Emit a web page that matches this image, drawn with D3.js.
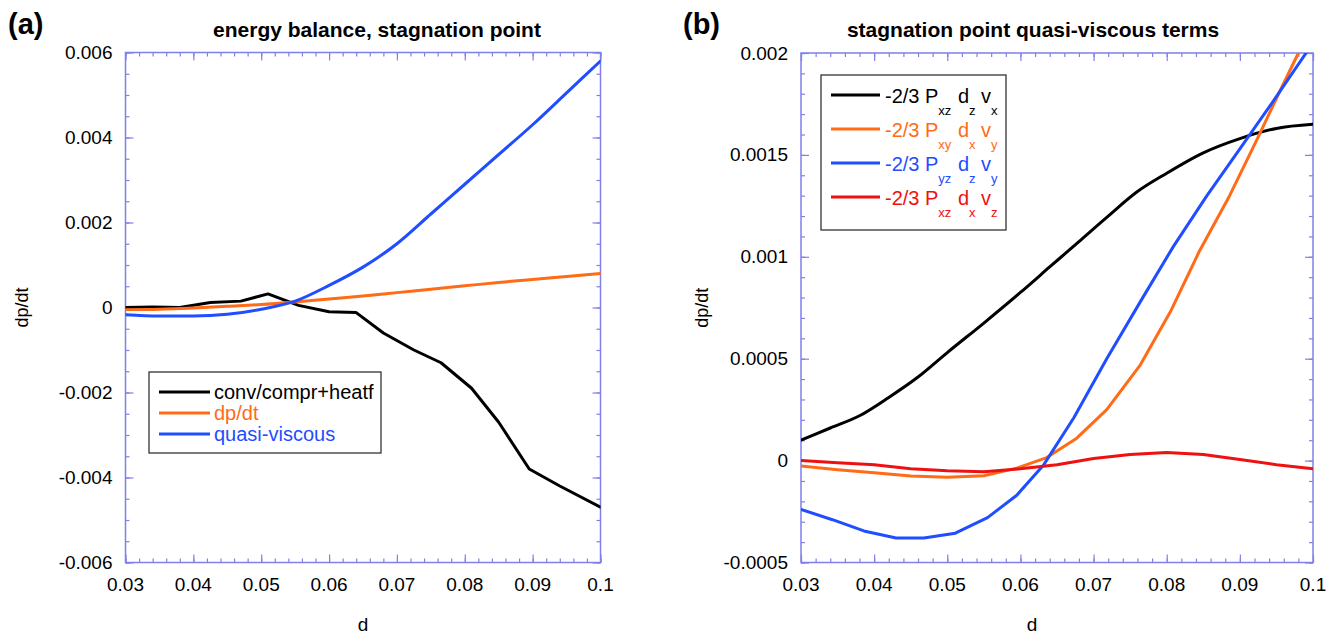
<!DOCTYPE html>
<html>
<head>
<meta charset="utf-8">
<script src="https://cdn.jsdelivr.net/npm/d3@7"></script>
<style>
  body { margin: 0; background: #fff; }
  svg { display: block; }
  text { font-family: "Liberation Sans", Arial, Helvetica, sans-serif; fill: #000; }
</style>
</head>
<body>
<svg id="fig" width="1338" height="637"></svg>
<script>
// ---------- shared axis ticks ----------
const xMajor  = [0.03, 0.04, 0.05, 0.06, 0.07, 0.08, 0.09, 0.1];
const xLabels = ["0.03", "0.04", "0.05", "0.06", "0.07", "0.08", "0.09", "0.1"];
const xMinorStep = 0.002;

// ---------- panel (a): energy balance ----------
const yMajorA  = [-0.006, -0.004, -0.002, 0, 0.002, 0.004, 0.006];
const yLabelsA = ["-0.006", "-0.004", "-0.002", "0", "0.002", "0.004", "0.006"];
const yMinorStepA = 0.0005;

const convD = [0.03, 0.034, 0.038, 0.0425, 0.047, 0.051, 0.0555, 0.06, 0.064, 0.068, 0.0725, 0.0765, 0.081, 0.085, 0.0895, 0.094, 0.1];
const convV = [0, 0.00001, 0, 0.00012, 0.00015, 0.00032, 0.00005, -0.0001, -0.00012, -0.0006, -0.001, -0.0013, -0.0019, -0.0027, -0.0038, -0.0042, -0.0047];

const dpdtD = [0.03, 0.035, 0.04, 0.045, 0.05, 0.055, 0.06, 0.065, 0.07, 0.075, 0.08, 0.085, 0.09, 0.095, 0.1];
const dpdtV = [-0.00005, -0.00004, -0.00001, 0.00003, 0.00007, 0.00013, 0.0002, 0.00027, 0.00035, 0.00043, 0.00051, 0.00059, 0.00066, 0.00073, 0.0008];

const qvD = [0.03, 0.035, 0.04, 0.045, 0.05, 0.055, 0.06, 0.065, 0.07, 0.075, 0.08, 0.085, 0.09, 0.095, 0.1];
const qvV = [-0.00017, -0.0002, -0.0002, -0.00016, -0.00004, 0.00015, 0.00052, 0.00095, 0.0015, 0.0022, 0.0029, 0.0036, 0.0043, 0.00505, 0.0058];

const legendNamesA  = ["conv/compr+heatf", "dp/dt", "quasi-viscous"];
const legendColorsA = ["#000000", "#ff6b17", "#1f4dff"];

// ---------- panel (b): quasi-viscous terms ----------
const yMajorB  = [-0.0005, 0, 0.0005, 0.001, 0.0015, 0.002];
const yLabelsB = ["-0.0005", "0", "0.0005", "0.001", "0.0015", "0.002"];
const yMinorStepB = 0.0001;

const pxzDzVxD = [0.03, 0.034, 0.038, 0.042, 0.046, 0.05, 0.055, 0.06, 0.064, 0.068, 0.072, 0.076, 0.08, 0.085, 0.09, 0.095, 0.1];
const pxzDzVxV = [0.0001, 0.00016, 0.00022, 0.00031, 0.00041, 0.00053, 0.000675, 0.000825, 0.00095, 0.001075, 0.0012, 0.00132, 0.00141, 0.00151, 0.00158, 0.00163, 0.00165];

const pxyDxVyD = [0.03, 0.035, 0.04, 0.045, 0.05, 0.055, 0.0595, 0.0636, 0.0677, 0.0718, 0.0764, 0.0805, 0.0845, 0.0886, 0.0924, 0.0953, 0.098, 0.1];
const pxyDxVyV = [-0.000026, -0.000045, -0.00006, -0.000075, -0.000082, -0.000074, -0.000037, 0.000015, 0.00011, 0.00025, 0.00047, 0.00073, 0.00103, 0.0013, 0.00158, 0.0018, 0.002, 0.00215];

const pyzDzVyD = [0.03, 0.0343, 0.0386, 0.043, 0.0468, 0.0511, 0.0555, 0.0595, 0.0632, 0.0673, 0.0718, 0.0764, 0.0809, 0.0855, 0.09, 0.0945, 0.1];
const pyzDzVyV = [-0.00024, -0.00029, -0.000345, -0.00038, -0.00038, -0.000356, -0.00028, -0.00017, -0.00002, 0.00021, 0.0005, 0.00078, 0.00105, 0.0013, 0.00153, 0.00176, 0.00205];

const pxzDxVzD = [0.03, 0.035, 0.04, 0.045, 0.05, 0.055, 0.06, 0.065, 0.07, 0.075, 0.08, 0.085, 0.09, 0.095, 0.1];
const pxzDxVzV = [0, -0.00001, -0.00002, -0.00004, -0.00005, -0.000055, -0.00004, -0.00002, 0.00001, 0.00003, 0.00004, 0.00003, 0.000005, -0.00002, -0.00004];

const legendSubsB   = [["xz", "z", "x"], ["xy", "x", "y"], ["yz", "z", "y"], ["xz", "x", "z"]];
const legendColorsB = ["#000000", "#ff6b17", "#1f4dff", "#ee1111"];

// ---------- drawing ----------
const AXIS = "#8080ea";
const svg = d3.select("#fig");

function zip(ds, vs) { return ds.map((d, i) => [d, vs[i]]); }
function steps(lo, hi, step) {
  const n = Math.round((hi - lo) / step);
  return d3.range(n + 1).map(i => lo + i * step);
}

function drawPanel(cfg) {
  const x = d3.scaleLinear().domain([0.03, 0.1]).range(cfg.xr);
  const y = d3.scaleLinear().domain(cfg.ydom).range(cfg.yr);
  const [x0, x1] = cfg.xr, [yb, yt] = cfg.yr;
  const g = svg.append("g");

  // frame ticks, pointing inward on all four sides
  const xMinor = steps(0.03, 0.1, xMinorStep);
  const yMinor = steps(cfg.ydom[0], cfg.ydom[1], cfg.yMinorStep);
  const mk = (axisFn, scale, vals, size, tx, ty) => {
    const a = g.append("g").attr("transform", `translate(${tx},${ty})`)
      .call(axisFn(scale).tickValues(vals).tickSize(-size).tickFormat(""));
    a.select(".domain").remove();
    a.selectAll("line").attr("stroke", AXIS).attr("stroke-width", 1.2);
  };
  mk(d3.axisBottom, x, xMinor, 4, 0, yb);
  mk(d3.axisBottom, x, xMajor, 8, 0, yb);
  mk(d3.axisTop, x, xMinor, 4, 0, yt);
  mk(d3.axisTop, x, xMajor, 8, 0, yt);
  mk(d3.axisLeft, y, yMinor, 4, x0, 0);
  mk(d3.axisLeft, y, cfg.yMajor, 8, x0, 0);
  mk(d3.axisRight, y, yMinor, 4, x1, 0);
  mk(d3.axisRight, y, cfg.yMajor, 8, x1, 0);

  g.append("rect").attr("x", x0).attr("y", yt).attr("width", x1 - x0).attr("height", yb - yt)
    .attr("fill", "none").attr("stroke", AXIS).attr("stroke-width", 1.5);

  // tick labels
  g.selectAll(".xl").data(xMajor).join("text")
    .attr("x", d => x(d)).attr("y", yb + 28).attr("text-anchor", "middle")
    .attr("font-size", 19).text((d, i) => xLabels[i]);
  g.selectAll(".yl").data(cfg.yMajor).join("text")
    .attr("x", x0 - 13).attr("y", d => y(d) + 6.5).attr("text-anchor", "end")
    .attr("font-size", 19).text((d, i) => cfg.yLabels[i]);

  // axis titles
  g.append("text").attr("x", cfg.dX).attr("y", 631).attr("text-anchor", "middle")
    .attr("font-size", 19).text("d");
  g.append("text").attr("transform", `translate(${cfg.yLabX},${(yb + yt) / 2}) rotate(-90)`)
    .attr("text-anchor", "middle").attr("font-size", 18).text("dp/dt");
  g.append("text").attr("x", cfg.titleX).attr("y", 37).attr("text-anchor", "middle")
    .attr("font-size", 21).attr("font-weight", "bold").text(cfg.title);
  g.append("text").attr("x", cfg.tagX).attr("y", 34)
    .attr("font-size", 29).attr("font-weight", "bold").text(cfg.tag);

  // curves
  const clipId = "clip" + cfg.tag.replace(/\W/g, "");
  svg.append("clipPath").attr("id", clipId).append("rect")
    .attr("x", x0).attr("y", yt).attr("width", x1 - x0).attr("height", yb - yt);
  const cg = g.append("g").attr("clip-path", `url(#${clipId})`);
  cfg.series.forEach(s => {
    const line = d3.line().x(d => x(d[0])).y(d => y(d[1]))
      .curve(s.smooth ? d3.curveMonotoneX : d3.curveLinear);
    cg.append("path").datum(s.pts).attr("d", line)
      .attr("fill", "none").attr("stroke", s.color).attr("stroke-width", 3)
      .attr("stroke-linejoin", "round").attr("stroke-linecap", "round");
  });
  return g;
}

// panel (a)
drawPanel({
  tag: "(a)", tagX: 8, title: "energy balance, stagnation point", titleX: 377,
  xr: [125.5, 600.5], yr: [562.5, 52.5], ydom: [-0.006, 0.006],
  yMajor: yMajorA, yLabels: yLabelsA, yMinorStep: yMinorStepA,
  dX: 363, yLabX: 28,
  series: [
    { pts: zip(convD, convV), color: legendColorsA[0] },
    { pts: zip(dpdtD, dpdtV), color: legendColorsA[1], smooth: true },
    { pts: zip(qvD, qvV), color: legendColorsA[2], smooth: true }
  ]
});

// panel (b)
drawPanel({
  tag: "(b)", tagX: 683, title: "stagnation point quasi-viscous terms", titleX: 1033,
  xr: [801, 1313], yr: [562.5, 53], ydom: [-0.0005, 0.002],
  yMajor: yMajorB, yLabels: yLabelsB, yMinorStep: yMinorStepB,
  dX: 1032, yLabX: 708,
  series: [
    { pts: zip(pxzDzVxD, pxzDzVxV), color: legendColorsB[0], smooth: true },
    { pts: zip(pxyDxVyD, pxyDxVyV), color: legendColorsB[1] },
    { pts: zip(pyzDzVyD, pyzDzVyV), color: legendColorsB[2] },
    { pts: zip(pxzDxVzD, pxzDxVzV), color: legendColorsB[3] }
  ]
});

// legend (a)
const legA = svg.append("g");
legA.append("rect").attr("x", 149).attr("y", 372).attr("width", 232).attr("height", 81)
  .attr("fill", "#fff").attr("stroke", "#333").attr("stroke-width", 1.3);
legendNamesA.forEach((name, i) => {
  const yy = 392 + i * 21;
  legA.append("line").attr("x1", 159).attr("x2", 210).attr("y1", yy).attr("y2", yy)
    .attr("stroke", legendColorsA[i]).attr("stroke-width", 3);
  legA.append("text").attr("x", 214).attr("y", yy + 7).attr("font-size", 20)
    .style("fill", legendColorsA[i]).text(name);
});

// legend (b)
const legB = svg.append("g");
legB.append("rect").attr("x", 821).attr("y", 75).attr("width", 185).attr("height", 155)
  .attr("fill", "#fff").attr("stroke", "#333").attr("stroke-width", 1.3);
legendSubsB.forEach((subs, i) => {
  const yy = 95 + i * 34;
  legB.append("line").attr("x1", 831).attr("x2", 880).attr("y1", yy).attr("y2", yy)
    .attr("stroke", legendColorsB[i]).attr("stroke-width", 3);
  const t = legB.append("text").attr("x", 885).attr("y", yy + 8).attr("font-size", 20)
    .style("fill", legendColorsB[i]);
  t.append("tspan").text("-2/3 P");
  t.append("tspan").attr("dy", 12).attr("font-size", 13).style("fill", legendColorsB[i]).text(subs[0]);
  t.append("tspan").attr("dy", -12).attr("dx", 1).style("fill", legendColorsB[i]).text("\u00a0d");
  t.append("tspan").attr("dy", 12).attr("font-size", 13).style("fill", legendColorsB[i]).text(subs[1]);
  t.append("tspan").attr("dy", -12).style("fill", legendColorsB[i]).text("\u00a0v");
  t.append("tspan").attr("dy", 12).attr("font-size", 13).style("fill", legendColorsB[i]).text(subs[2]);
});
</script>
</body>
</html>
